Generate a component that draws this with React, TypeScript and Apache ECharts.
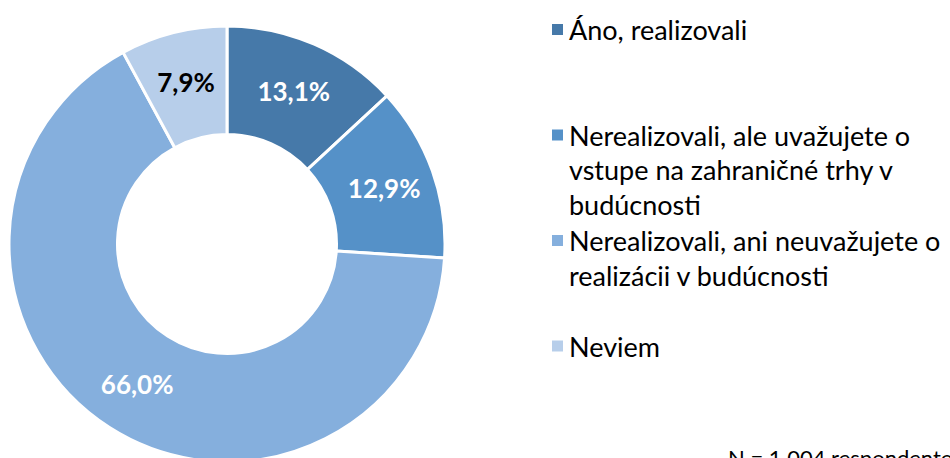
import React, { useEffect, useRef } from "react";
import * as echarts from "echarts";

const categories = [
  "Áno, realizovali",
  "Nerealizovali, ale uvažujete o vstupe na zahraničné trhy v budúcnosti",
  "Nerealizovali, ani neuvažujete o realizácii v budúcnosti",
  "Neviem",
];
const values = [13.1, 12.9, 66.0, 7.9];
const valueLabels = ["13,1%", "12,9%", "66,0%", "7,9%"];
const legendLines = [
  ["Áno, realizovali"],
  ["Nerealizovali, ale uvažujete o", "vstupe na zahraničné trhy v", "budúcnosti"],
  ["Nerealizovali, ani neuvažujete o", "realizácii v budúcnosti"],
  ["Neviem"],
];
const colors = ["#4679A9", "#5591C8", "#85AFDD", "#B7CEEA"];
const labelColors = ["#ffffff", "#ffffff", "#ffffff", "#000000"];
const footnote = "N = 1 004 respondentov";

const FONT = "Lato";
const LEGEND_LH = 34.5;
const legendIconCenters = [29.5, 135, 240.5, 346];

export default function App() {
  const ref = useRef<HTMLDivElement>(null);
  useEffect(() => {
    document.body.style.margin = "0";
    const chart = echarts.init(ref.current!, null, { renderer: "svg" });
    const legends = categories.map((name, i) => {
      const L = legendLines[i].length;
      const totalLines = 2 * L - 1;
      return {
        data: [name],
        left: 550,
        top: legendIconCenters[i] - (totalLines * LEGEND_LH) / 2,
        orient: "vertical",
        padding: 0,
        itemWidth: 13,
        itemHeight: 13,
        icon: "rect",
        selectedMode: false,
        formatter: () => "\n".repeat(L - 1) + legendLines[i].join("\n"),
        textStyle: {
          fontFamily: FONT,
          fontSize: 27,
          lineHeight: LEGEND_LH,
          color: "#000",
        },
      };
    });
    chart.setOption({
      animation: false,
      color: colors,
      legend: legends,
      graphic: [
        {
          type: "text",
          left: 728,
          top: 446,
          style: {
            text: footnote,
            fontFamily: FONT,
            fontSize: 22,
            fill: "#000",
          },
        },
      ],
      series: [
        {
          type: "pie",
          center: [227, 244],
          radius: [109.5, 218],
          startAngle: 90,
          clockwise: true,
          avoidLabelOverlap: false,
          itemStyle: { borderColor: "#fff", borderWidth: 3 },
          label: {
            show: true,
            position: "inside",
            fontFamily: FONT,
            fontSize: 26,
            fontWeight: "bold",
          },
          labelLine: { show: false },
          emphasis: { disabled: true },
          data: categories.map((name, i) => ({
            name,
            value: values[i],
            label: { formatter: valueLabels[i], color: labelColors[i] },
          })),
        },
      ],
    });
    return () => chart.dispose();
  }, []);
  return <div ref={ref} style={{ width: 950, height: 458 }} />;
}
